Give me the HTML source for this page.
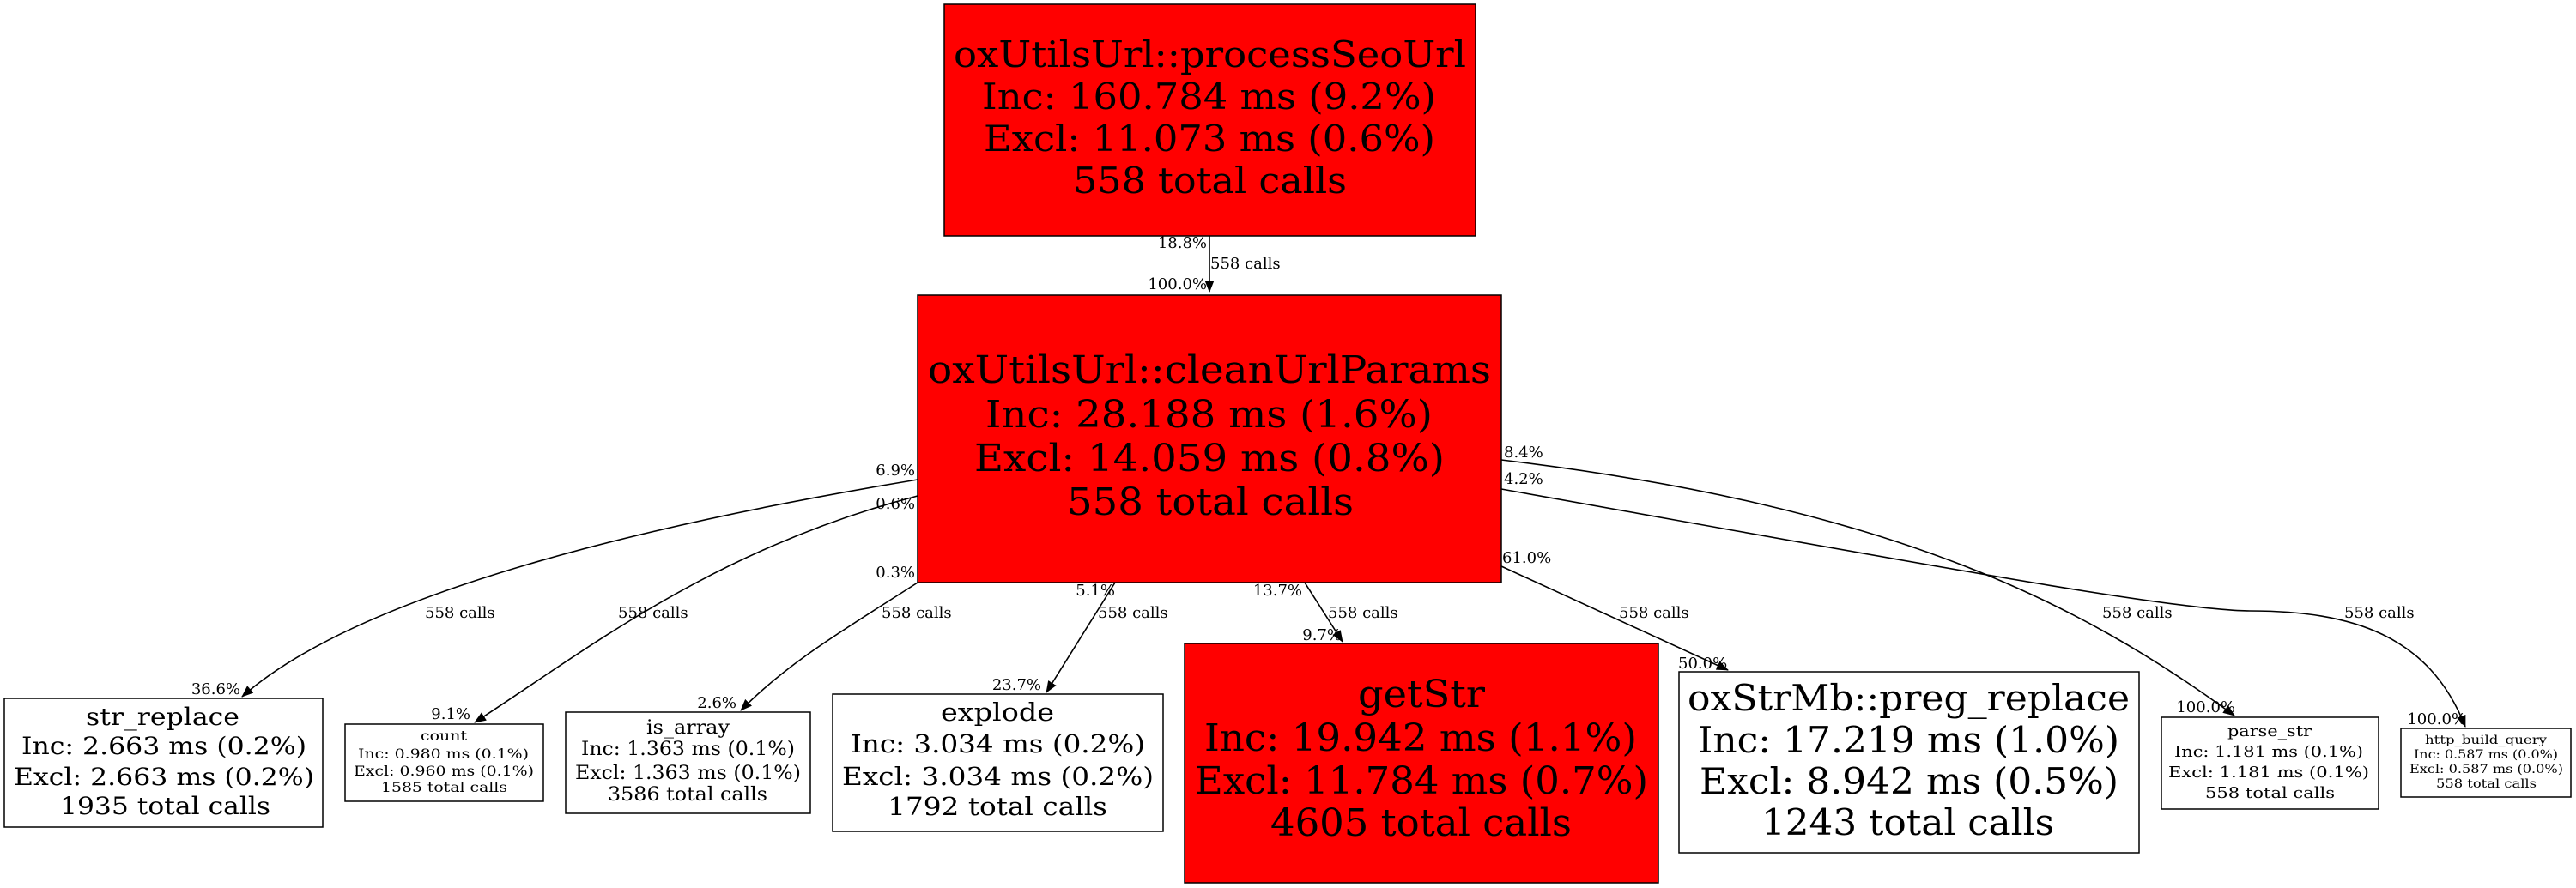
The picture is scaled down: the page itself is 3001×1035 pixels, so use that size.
<!DOCTYPE html>
<html><head><meta charset="utf-8"><style>
html,body{margin:0;padding:0;background:#fff;}
svg{display:block;}
text{font-family:"DejaVu Serif","Liberation Serif",serif;fill:#000;}
.l{font-size:18px;}
</style></head><body>
<svg width="3001" height="1035" viewBox="0 0 3001 1035" xmlns="http://www.w3.org/2000/svg">
<defs>
<marker id="b" markerWidth="14" markerHeight="20" refX="13" refY="7" orient="auto" markerUnits="userSpaceOnUse"><path d="M0,1.5 L14,7 L0,12.5 z" fill="#000"/></marker></defs>

<g fill="none" stroke="#000" stroke-width="1.6">
<path d="M1409,275 L1409,340" marker-end="url(#b)"/>
<path d="M1069,559 C760,610 420,690 282,812" marker-end="url(#b)"/>
<path d="M1069,578 C830,640 680,760 553,842" marker-end="url(#b)"/>
<path d="M1069,679 C990,730 920,770 863,828" marker-end="url(#b)"/>
<path d="M1299,679 L1219,807" marker-end="url(#b)"/>
<path d="M1520,679 L1564,748" marker-end="url(#b)"/>
<path d="M1749,660 L2013,781" marker-end="url(#b)"/>
<path d="M1749,536 C2200,590 2420,700 2603,834" marker-end="url(#b)"/>
<path d="M1749,570 C2200,650 2530,712 2621,712 C2740,712 2830,740 2872,847" marker-end="url(#b)"/>
</g>

<rect x="1100" y="5" width="619" height="270" fill="#ff0000" stroke="#000" stroke-width="1.5"/>
<text x="1111" y="78" font-size="42" textLength="597" lengthAdjust="spacingAndGlyphs">oxUtilsUrl::processSeoUrl</text>
<text x="1144" y="127" font-size="42" textLength="529" lengthAdjust="spacingAndGlyphs">Inc: 160.784 ms (9.2%)</text>
<text x="1146" y="176" font-size="42" textLength="526" lengthAdjust="spacingAndGlyphs">Excl: 11.073 ms (0.6%)</text>
<text x="1250" y="225" font-size="42" textLength="319" lengthAdjust="spacingAndGlyphs">558 total calls</text>

<rect x="1069" y="344" width="680" height="335" fill="#ff0000" stroke="#000" stroke-width="1.5"/>
<text x="1081" y="446" font-size="44" textLength="656" lengthAdjust="spacingAndGlyphs">oxUtilsUrl::cleanUrlParams</text>
<text x="1148" y="498" font-size="44" textLength="521" lengthAdjust="spacingAndGlyphs">Inc: 28.188 ms (1.6%)</text>
<text x="1135" y="549" font-size="44" textLength="548" lengthAdjust="spacingAndGlyphs">Excl: 14.059 ms (0.8%)</text>
<text x="1243" y="600" font-size="44" textLength="334" lengthAdjust="spacingAndGlyphs">558 total calls</text>

<rect x="5" y="814" width="371" height="150" fill="#fff" stroke="#000" stroke-width="1.5"/>
<text x="100" y="845" font-size="28" textLength="179" lengthAdjust="spacingAndGlyphs">str_replace</text>
<text x="25" y="879" font-size="28" textLength="332" lengthAdjust="spacingAndGlyphs">Inc: 2.663 ms (0.2%)</text>
<text x="16" y="915" font-size="28" textLength="350" lengthAdjust="spacingAndGlyphs">Excl: 2.663 ms (0.2%)</text>
<text x="70" y="949" font-size="28" textLength="245" lengthAdjust="spacingAndGlyphs">1935 total calls</text>

<rect x="402" y="844" width="231" height="90" fill="#fff" stroke="#000" stroke-width="1.5"/>
<text x="490" y="863" font-size="15.5" textLength="54" lengthAdjust="spacingAndGlyphs">count</text>
<text x="417" y="884" font-size="15.5" textLength="199" lengthAdjust="spacingAndGlyphs">Inc: 0.980 ms (0.1%)</text>
<text x="412" y="904" font-size="15.5" textLength="210" lengthAdjust="spacingAndGlyphs">Excl: 0.960 ms (0.1%)</text>
<text x="444" y="923" font-size="15.5" textLength="147" lengthAdjust="spacingAndGlyphs">1585 total calls</text>

<rect x="659" y="830" width="285" height="118" fill="#fff" stroke="#000" stroke-width="1.5"/>
<text x="753" y="855" font-size="22" textLength="97" lengthAdjust="spacingAndGlyphs">is_array</text>
<text x="677" y="880" font-size="22" textLength="249" lengthAdjust="spacingAndGlyphs">Inc: 1.363 ms (0.1%)</text>
<text x="670" y="908" font-size="22" textLength="263" lengthAdjust="spacingAndGlyphs">Excl: 1.363 ms (0.1%)</text>
<text x="708" y="933" font-size="22" textLength="186" lengthAdjust="spacingAndGlyphs">3586 total calls</text>

<rect x="970" y="809" width="385" height="160" fill="#fff" stroke="#000" stroke-width="1.5"/>
<text x="1096" y="840" font-size="29" textLength="132" lengthAdjust="spacingAndGlyphs">explode</text>
<text x="991" y="877" font-size="29" textLength="343" lengthAdjust="spacingAndGlyphs">Inc: 3.034 ms (0.2%)</text>
<text x="981" y="915" font-size="29" textLength="363" lengthAdjust="spacingAndGlyphs">Excl: 3.034 ms (0.2%)</text>
<text x="1034" y="950" font-size="29" textLength="256" lengthAdjust="spacingAndGlyphs">1792 total calls</text>

<rect x="1380" y="750" width="552" height="279" fill="#ff0000" stroke="#000" stroke-width="1.5"/>
<text x="1582" y="824" font-size="44" textLength="148" lengthAdjust="spacingAndGlyphs">getStr</text>
<text x="1403" y="875" font-size="44" textLength="504" lengthAdjust="spacingAndGlyphs">Inc: 19.942 ms (1.1%)</text>
<text x="1392" y="925" font-size="44" textLength="528" lengthAdjust="spacingAndGlyphs">Excl: 11.784 ms (0.7%)</text>
<text x="1480" y="974" font-size="44" textLength="351" lengthAdjust="spacingAndGlyphs">4605 total calls</text>

<rect x="1956" y="783" width="536" height="211" fill="#fff" stroke="#000" stroke-width="1.5"/>
<text x="1966" y="828" font-size="42" textLength="515" lengthAdjust="spacingAndGlyphs">oxStrMb::preg_replace</text>
<text x="1978" y="877" font-size="42" textLength="491" lengthAdjust="spacingAndGlyphs">Inc: 17.219 ms (1.0%)</text>
<text x="1980" y="925" font-size="42" textLength="488" lengthAdjust="spacingAndGlyphs">Excl: 8.942 ms (0.5%)</text>
<text x="2052" y="973" font-size="42" textLength="341" lengthAdjust="spacingAndGlyphs">1243 total calls</text>

<rect x="2518" y="836" width="253" height="107" fill="#fff" stroke="#000" stroke-width="1.5"/>
<text x="2595" y="858" font-size="18" textLength="98" lengthAdjust="spacingAndGlyphs">parse_str</text>
<text x="2533" y="882" font-size="18" textLength="220" lengthAdjust="spacingAndGlyphs">Inc: 1.181 ms (0.1%)</text>
<text x="2526" y="906" font-size="18" textLength="234" lengthAdjust="spacingAndGlyphs">Excl: 1.181 ms (0.1%)</text>
<text x="2569" y="930" font-size="18" textLength="151" lengthAdjust="spacingAndGlyphs">558 total calls</text>

<rect x="2797" y="849" width="198" height="80" fill="#fff" stroke="#000" stroke-width="1.5"/>
<text x="2825" y="867" font-size="14" textLength="142" lengthAdjust="spacingAndGlyphs" fill="#333">http_build_query</text>
<text x="2812" y="884" font-size="14" textLength="168" lengthAdjust="spacingAndGlyphs" fill="#333">Inc: 0.587 ms (0.0%)</text>
<text x="2807" y="901" font-size="14" textLength="179" lengthAdjust="spacingAndGlyphs" fill="#333">Excl: 0.587 ms (0.0%)</text>
<text x="2838" y="918" font-size="14" textLength="117" lengthAdjust="spacingAndGlyphs" fill="#333">558 total calls</text>

<g>
<text x="1406" y="289" text-anchor="end" class="l">18.8%</text>
<text x="1410" y="313" class="l">558 calls</text>
<text x="1406" y="337" text-anchor="end" class="l">100.0%</text>

<text x="1066" y="554" text-anchor="end" class="l">6.9%</text>
<text x="1066" y="593" text-anchor="end" class="l">0.6%</text>
<text x="1066" y="673" text-anchor="end" class="l">0.3%</text>
<text x="1299" y="694" text-anchor="end" class="l">5.1%</text>
<text x="1517" y="694" text-anchor="end" class="l">13.7%</text>
<text x="1752" y="533" class="l">8.4%</text>
<text x="1752" y="564" class="l">4.2%</text>
<text x="1750" y="656" class="l">61.0%</text>

<text x="495" y="720" class="l">558 calls</text>
<text x="720" y="720" class="l">558 calls</text>
<text x="1027" y="720" class="l">558 calls</text>
<text x="1279" y="720" class="l">558 calls</text>
<text x="1547" y="720" class="l">558 calls</text>
<text x="1886" y="720" class="l">558 calls</text>
<text x="2449" y="720" class="l">558 calls</text>
<text x="2731" y="720" class="l">558 calls</text>

<text x="280" y="809" text-anchor="end" class="l">36.6%</text>
<text x="548" y="838" text-anchor="end" class="l">9.1%</text>
<text x="858" y="825" text-anchor="end" class="l">2.6%</text>
<text x="1213" y="804" text-anchor="end" class="l">23.7%</text>
<text x="1563" y="746" text-anchor="end" class="l">9.7%</text>
<text x="1955" y="779" class="l">50.0%</text>
<text x="2604" y="830" text-anchor="end" class="l">100.0%</text>
<text x="2873" y="844" text-anchor="end" class="l">100.0%</text>
</g>
</svg>
</body></html>
